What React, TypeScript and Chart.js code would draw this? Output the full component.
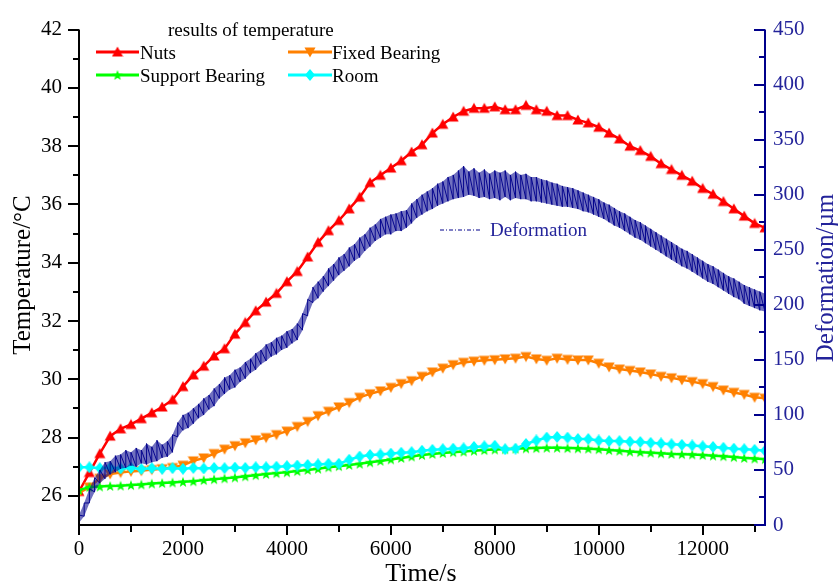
import React, { useEffect, useRef } from 'react';
import { Chart, registerables } from 'chart.js';

Chart.register(...registerables);

// ---------- data ----------
const times = [
  0, 200, 400, 600, 800, 1000, 1200, 1400, 1600, 1800, 2000, 2200, 2400, 2600, 2800, 3000,
  3200, 3400, 3600, 3800, 4000, 4200, 4400, 4600, 4800, 5000, 5200, 5400, 5600, 5800, 6000,
  6200, 6400, 6600, 6800, 7000, 7200, 7400, 7600, 7800, 8000, 8200, 8400, 8600, 8800, 9000,
  9200, 9400, 9600, 9800, 10000, 10200, 10400, 10600, 10800, 11000, 11200, 11400, 11600,
  11800, 12000, 12200, 12400, 12600, 12800, 13000, 13200,
];

const nuts = [
  26.15, 26.8, 27.45, 28.05, 28.3, 28.45, 28.65, 28.85, 29.05, 29.3, 29.75, 30.15, 30.45, 30.8,
  31.05, 31.55, 31.95, 32.35, 32.65, 32.95, 33.35, 33.7, 34.2, 34.7, 35.1, 35.45, 35.85, 36.25,
  36.75, 37.0, 37.25, 37.5, 37.8, 38.05, 38.45, 38.75, 39.0, 39.2, 39.3, 39.3, 39.35, 39.25,
  39.25, 39.4, 39.25, 39.2, 39.05, 39.05, 38.9, 38.8, 38.65, 38.45, 38.25, 38.0, 37.85, 37.65,
  37.4, 37.2, 37.0, 36.8, 36.55, 36.35, 36.1, 35.85, 35.6, 35.35, 35.2,
];

const fixedBearing = [
  26.1, 26.3, 26.6, 26.75, 26.8, 26.84, 26.86, 26.9, 26.93, 26.97, 27.05, 27.2, 27.3, 27.45,
  27.6, 27.72, 27.82, 27.92, 28.0, 28.1, 28.22, 28.38, 28.55, 28.75, 28.9, 29.05, 29.2, 29.38,
  29.5, 29.6, 29.72, 29.85, 29.95, 30.1, 30.25, 30.38, 30.5, 30.58, 30.62, 30.65, 30.67, 30.7,
  30.72, 30.78, 30.7, 30.65, 30.72, 30.68, 30.66, 30.66, 30.55, 30.42, 30.35, 30.3, 30.25,
  30.18, 30.1, 30.05, 29.98, 29.92, 29.85, 29.75, 29.63, 29.55, 29.48, 29.38, 29.35,
];

const supportBearing = [
  26.2, 26.3, 26.32, 26.34, 26.35, 26.37, 26.39, 26.42, 26.44, 26.46, 26.48, 26.5, 26.54,
  26.57, 26.6, 26.63, 26.67, 26.71, 26.75, 26.78, 26.81, 26.85, 26.89, 26.93, 26.98, 27.02,
  27.06, 27.1, 27.15, 27.2, 27.25, 27.3, 27.35, 27.4, 27.44, 27.47, 27.5, 27.52, 27.55, 27.57,
  27.59, 27.6, 27.62, 27.63, 27.64, 27.65, 27.65, 27.64, 27.63, 27.62, 27.6, 27.57, 27.55,
  27.52, 27.5, 27.48, 27.46, 27.44, 27.43, 27.42, 27.4, 27.38, 27.36, 27.33, 27.3, 27.28, 27.26,
];

const room = [
  26.98, 26.98, 26.95, 26.97, 26.94, 26.96, 26.92, 26.95, 26.93, 26.95, 26.93, 26.96, 26.94,
  26.96, 26.95, 26.97, 26.96, 26.98, 26.98, 27.0, 27.02, 27.04, 27.06, 27.08, 27.1, 27.1,
  27.24, 27.35, 27.4, 27.42, 27.45, 27.48, 27.5, 27.55, 27.58, 27.6, 27.62, 27.63, 27.68,
  27.7, 27.72, 27.6, 27.62, 27.78, 27.9, 28.0, 28.02, 28.0, 27.95, 27.95, 27.9, 27.88, 27.88,
  27.86, 27.85, 27.82, 27.8, 27.77, 27.75, 27.73, 27.7, 27.68, 27.65, 27.62, 27.6, 27.58, 27.55,
];

const defTimes = [
  0, 100, 200, 300, 400, 500, 600, 700, 800, 900, 1000, 1100, 1200, 1300, 1400, 1500, 1600,
  1700, 1800, 1900, 2000, 2100, 2200, 2300, 2400, 2500, 2600, 2700, 2800, 2900, 3000, 3100,
  3200, 3300, 3400, 3500, 3600, 3700, 3800, 3900, 4000, 4100, 4200, 4300, 4400, 4500, 4600,
  4700, 4800, 4900, 5000, 5100, 5200, 5300, 5400, 5500, 5600, 5700, 5800, 5900, 6000, 6100,
  6200, 6300, 6400, 6500, 6600, 6700, 6800, 6900, 7000, 7100, 7200, 7300, 7400, 7500, 7600,
  7700, 7800, 7900, 8000, 8100, 8200, 8300, 8400, 8500, 8600, 8700, 8800, 8900, 9000, 9100,
  9200, 9300, 9400, 9500, 9600, 9700, 9800, 9900, 10000, 10100, 10200, 10300, 10400, 10500,
  10600, 10700, 10800, 10900, 11000, 11100, 11200, 11300, 11400, 11500, 11600, 11700, 11800,
  11900, 12000, 12100, 12200, 12300, 12400, 12500, 12600, 12700, 12800, 12900, 13000, 13100,
  13200,
];

const defLow = [
  2, 8, 20, 30, 38, 42, 46, 48, 51, 52, 54, 53, 56, 55, 57, 58, 61, 62, 66, 80, 86, 88, 92, 97,
  100, 105, 108, 115, 119, 123, 125, 130, 133, 138, 141, 146, 149, 153, 155, 159, 161, 165, 168,
  177, 190, 202, 206, 212, 217, 222, 227, 231, 235, 240, 243, 249, 253, 258, 261, 264, 264, 267,
  267, 270, 274, 279, 282, 285, 287, 290, 292, 294, 296, 297, 298, 300, 299, 297, 298, 296, 297,
  295, 298, 295, 297, 296, 296, 294, 294, 293, 292, 291, 290, 289, 289, 288, 287, 285, 284, 282,
  280, 278, 275, 272, 270, 267, 264, 261, 259, 256, 253, 250, 247, 244, 241, 238, 235, 233, 230,
  227, 224, 221, 219, 216, 213, 210, 207, 205, 201, 199, 197, 195, 194,
];

const defHigh = [
  9, 20, 33, 43, 50, 57, 58, 63, 64, 68, 66, 70, 68, 74, 71, 77, 73, 76, 82, 93, 100, 102, 106,
  110, 115, 118, 124, 128, 134, 136, 141, 143, 148, 151, 156, 159, 164, 166, 170, 172, 176, 178,
  183, 192, 205, 216, 221, 226, 233, 237, 243, 246, 252, 255, 261, 264, 270, 273, 278, 280, 282,
  283, 285, 286, 292, 296, 300, 303, 306, 310, 312, 316, 318, 322, 326, 321, 324, 320, 323, 319,
  322, 320, 322, 318, 321, 318, 319, 316, 316, 314, 313, 311, 310, 308, 307, 306, 304, 302, 300,
  298, 296, 293, 291, 288, 285, 283, 280, 277, 275, 272, 269, 266, 263, 260, 257, 254, 251, 249,
  246, 243, 240, 237, 235, 232, 229, 226, 224, 221, 218, 216, 214, 212, 210,
];

const tempTicks = [26, 28, 30, 32, 34, 36, 38, 40, 42];
const tempMinor = [27, 29, 31, 33, 35, 37, 39, 41];
const timeTicks = [0, 2000, 4000, 6000, 8000, 10000, 12000];
const timeMinor = [1000, 3000, 5000, 7000, 9000, 11000, 13000];
const defTicks = [0, 50, 100, 150, 200, 250, 300, 350, 400, 450];
const defMinor = [25, 75, 125, 175, 225, 275, 325, 375, 425];

const FONT = "'Liberation Serif', 'Times New Roman', serif";
const NAVY = '#00008B';
const NAVY_TEXT = '#23239a';

const seriesInfo = [
  { label: 'Nuts', values: nuts, color: '#FF0000', marker: 'up' },
  { label: 'Fixed Bearing', values: fixedBearing, color: '#FF8000', marker: 'down' },
  { label: 'Support Bearing', values: supportBearing, color: '#00FF00', marker: 'star' },
  { label: 'Room', values: room, color: '#00FFFF', marker: 'diamond' },
];

function makeMarker(kind: string, color: string): HTMLCanvasElement {
  const c = document.createElement('canvas');
  c.width = 12;
  c.height = 12;
  const g = c.getContext('2d') as CanvasRenderingContext2D;
  g.fillStyle = color;
  g.beginPath();
  if (kind === 'up') {
    g.moveTo(6, 0.5);
    g.lineTo(11.5, 10.5);
    g.lineTo(0.5, 10.5);
  } else if (kind === 'down') {
    g.moveTo(0.5, 1.5);
    g.lineTo(11.5, 1.5);
    g.lineTo(6, 11.5);
  } else if (kind === 'diamond') {
    g.moveTo(6, 0);
    g.lineTo(11, 6);
    g.lineTo(6, 12);
    g.lineTo(1, 6);
  } else {
    for (let k = 0; k < 10; k++) {
      const r = k % 2 === 0 ? 5.5 : 2.3;
      const a = -Math.PI / 2 + (k * Math.PI) / 5;
      const px = 6 + r * Math.cos(a);
      const py = 6.5 + r * Math.sin(a);
      if (k === 0) g.moveTo(px, py);
      else g.lineTo(px, py);
    }
  }
  g.closePath();
  g.fill();
  return c;
}

export default function App() {
  const ref = useRef<HTMLCanvasElement | null>(null);

  useEffect(() => {
    if (!ref.current) return;
    const markers = seriesInfo.map((s) => makeMarker(s.marker, s.color));

    // noisy band: vertical strokes low->high at each sample, joined in sequence
    const deformationTrace: { x: number; y: number }[] = [];
    defTimes.forEach((t, i) => {
      deformationTrace.push({ x: t, y: defLow[i] });
      deformationTrace.push({ x: t, y: defHigh[i] });
    });

    const overlay = {
      id: 'overlay',
      afterDraw(chart: any) {
        const { ctx, chartArea: a, scales } = chart;
        const sx = scales.x;
        const sy = scales.y;
        const sy1 = scales.y1;
        const seg = (x1: number, y1: number, x2: number, y2: number) => {
          ctx.beginPath();
          ctx.moveTo(x1, y1);
          ctx.lineTo(x2, y2);
          ctx.stroke();
        };
        ctx.save();
        // left axis
        ctx.strokeStyle = '#000';
        ctx.lineWidth = 2;
        seg(a.left, a.top, a.left, a.bottom + 1);
        tempTicks.forEach((v) => {
          const p = Math.round(sy.getPixelForValue(v));
          seg(a.left - 11, p, a.left, p);
        });
        tempMinor.forEach((v) => {
          const p = Math.round(sy.getPixelForValue(v));
          seg(a.left - 6, p, a.left, p);
        });
        // bottom axis
        seg(a.left - 1, a.bottom, a.right - 8, a.bottom);
        timeTicks.forEach((v) => {
          const p = Math.round(sx.getPixelForValue(v));
          seg(p, a.bottom, p, a.bottom + 10);
        });
        timeMinor.forEach((v) => {
          const p = Math.round(sx.getPixelForValue(v));
          seg(p, a.bottom, p, a.bottom + 7);
        });
        // right axis
        ctx.strokeStyle = NAVY;
        seg(a.right - 8, a.bottom, a.right + 1, a.bottom);
        seg(a.right, a.top, a.right, a.bottom + 1);
        defTicks.forEach((v) => {
          const p = Math.round(sy1.getPixelForValue(v));
          seg(a.right - 11, p, a.right, p);
        });
        defMinor.forEach((v) => {
          const p = Math.round(sy1.getPixelForValue(v));
          seg(a.right - 6, p, a.right, p);
        });

        // axis titles
        ctx.font = `26px ${FONT}`;
        ctx.fillStyle = '#000';
        ctx.textAlign = 'center';
        ctx.textBaseline = 'middle';
        ctx.fillText('Time/s', 421, 574);
        ctx.font = `25px ${FONT}`;
        ctx.save();
        ctx.translate(23, 275);
        ctx.rotate(-Math.PI / 2);
        ctx.fillText('Temperature/°C', 0, 0);
        ctx.restore();
        ctx.save();
        ctx.fillStyle = NAVY_TEXT;
        ctx.translate(826, 278);
        ctx.rotate(-Math.PI / 2);
        ctx.fillText('Deformation/µm', 0, 0);
        ctx.restore();

        // temperature legend
        ctx.font = `19px ${FONT}`;
        ctx.fillStyle = '#000';
        ctx.textAlign = 'left';
        ctx.textBaseline = 'alphabetic';
        ctx.fillText('results of temperature', 168, 36);
        const cols = [
          { x1: 96, x2: 139, tx: 140 },
          { x1: 288, x2: 332, tx: 332 },
        ];
        const rows = [52, 75];
        seriesInfo.forEach((s, i) => {
          const c = cols[i % 2];
          const ry = rows[Math.floor(i / 2)];
          ctx.strokeStyle = s.color;
          ctx.lineWidth = 3;
          seg(c.x1, ry, c.x2, ry);
          const m = markers[i];
          ctx.drawImage(m, (c.x1 + c.x2) / 2 - 6, ry - 6);
          ctx.fillStyle = '#000';
          ctx.fillText(s.label, c.tx, ry + 7);
        });

        // deformation legend
        ctx.strokeStyle = NAVY;
        ctx.lineWidth = 1;
        ctx.setLineDash([4, 2, 1, 2]);
        seg(440, 230, 482, 230);
        ctx.setLineDash([]);
        ctx.fillStyle = NAVY_TEXT;
        ctx.fillText('Deformation', 490, 236);
        ctx.restore();
      },
    };

    const chart = new Chart(ref.current, {
      type: 'line',
      data: {
        datasets: [
          {
            label: 'Deformation low',
            data: defTimes.map((t, i) => ({ x: t, y: defLow[i] })),
            yAxisID: 'y1',
            borderWidth: 0,
            borderColor: 'rgba(0,0,0,0)',
            pointRadius: 0,
            fill: false,
            order: 2,
          },
          {
            label: 'Deformation high',
            data: defTimes.map((t, i) => ({ x: t, y: defHigh[i] })),
            yAxisID: 'y1',
            borderWidth: 0,
            borderColor: 'rgba(0,0,0,0)',
            backgroundColor: 'rgba(10,10,145,0.58)',
            pointRadius: 0,
            fill: '-1',
            order: 1,
          },
          {
            label: 'Deformation',
            data: deformationTrace,
            yAxisID: 'y1',
            borderColor: 'rgba(0,0,140,0.95)',
            borderWidth: 1,
            pointRadius: 0,
            tension: 0,
            order: 0,
          },
          ...seriesInfo.map((s, i) => ({
            label: s.label,
            data: times.map((t, j) => ({ x: t, y: s.values[j] })),
            yAxisID: 'y',
            borderColor: s.color,
            backgroundColor: s.color,
            borderWidth: 2.5,
            pointStyle: markers[i],
            pointRadius: 5,
            tension: 0,
            order: 6 - i,
          })),
        ] as any,
      },
      options: {
        responsive: false,
        animation: false,
        layout: { padding: { top: 20, left: 0, right: 0, bottom: 0 } },
        plugins: {
          legend: { display: false },
          tooltip: { enabled: false },
          title: { display: false },
          filler: { propagate: false },
        },
        scales: {
          x: {
            type: 'linear',
            offset: false,
            min: 0,
            max: 13200,
            grid: { display: false, drawTicks: false },
            border: { display: false },
            afterBuildTicks: (s: any) => {
              s.ticks = timeTicks.map((v) => ({ value: v }));
            },
            afterFit: (s: any) => {
              s.height = 62;
            },
            ticks: {
              color: '#000',
              font: { family: FONT, size: 21 },
              padding: 12,
              maxRotation: 0,
              autoSkip: false,
              callback: (v: any) => String(v),
            },
          },
          y: {
            type: 'linear',
            position: 'left',
            min: 25,
            max: 42,
            grid: { display: false, drawTicks: false },
            border: { display: false },
            afterBuildTicks: (s: any) => {
              s.ticks = tempTicks.map((v) => ({ value: v }));
            },
            afterFit: (s: any) => {
              s.width = 79;
            },
            ticks: {
              color: '#000',
              font: { family: FONT, size: 21 },
              padding: 17,
              callback: (v: any) => String(v),
            },
          },
          y1: {
            type: 'linear',
            position: 'right',
            min: 0,
            max: 450,
            grid: { display: false, drawTicks: false },
            border: { display: false },
            afterBuildTicks: (s: any) => {
              s.ticks = defTicks.map((v) => ({ value: v }));
            },
            afterFit: (s: any) => {
              s.width = 75;
            },
            ticks: {
              color: NAVY_TEXT,
              font: { family: FONT, size: 21 },
              padding: 8,
              callback: (v: any) => String(v),
            },
          },
        },
      } as any,
      plugins: [overlay],
    });

    return () => chart.destroy();
  }, []);

  return (
    <div style={{ position: 'absolute', left: 0, top: 0, width: 840, height: 587, background: '#fff' }}>
      <canvas ref={ref} width={840} height={587} style={{ display: 'block' }} />
    </div>
  );
}
